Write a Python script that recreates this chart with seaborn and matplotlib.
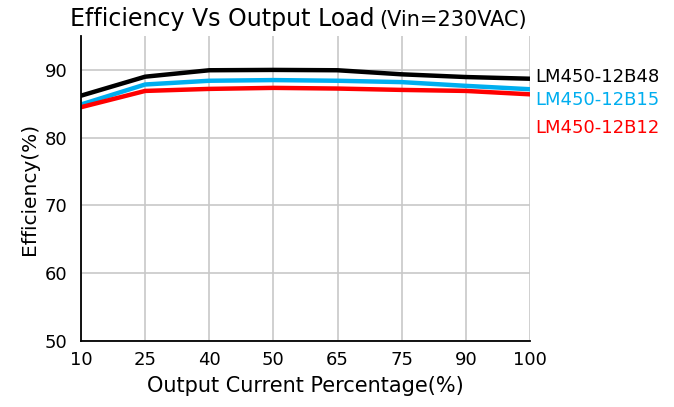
import matplotlib
matplotlib.use('Agg')
import matplotlib.pyplot as plt
import pandas as pd
import seaborn as sns

##################################################################
loads = ['10', '25', '40', '50', '65', '75', '90', '100']
eff_b48 = [86.2, 89.0, 89.95, 90.0, 89.95, 89.35, 88.95, 88.7]
eff_b15 = [84.9, 87.85, 88.4, 88.5, 88.4, 88.2, 87.65, 87.15]
eff_b12 = [84.5, 86.9, 87.2, 87.35, 87.25, 87.05, 86.9, 86.4]
models = ['LM450-12B48', 'LM450-12B15', 'LM450-12B12']
colors = ['#000000', '#00aeef', '#ff0000']
##################################################################
df = pd.DataFrame({
    'Load': loads * 3,
    'Eff': eff_b48 + eff_b15 + eff_b12,
    'Model': [m for m in models for _ in loads],
})

sns.set_style('white')
plt.rcParams['font.family'] = ['DejaVu Sans']
plt.rcParams['text.color'] = 'black'
plt.rcParams['axes.labelcolor'] = 'black'

fig = plt.figure(figsize=[6.74, 4.07], dpi=100)
ax = fig.add_axes([0.1202, 0.162, 0.666, 0.7495])

sns.lineplot(data=df, x='Load', y='Eff', hue='Model', palette=colors,
             hue_order=models, lw=3.2, legend=False, ax=ax, sort=False)

ax.set_xlim(0, len(loads) - 1)
ax.set_ylim(50, 95)
ax.set_yticks([50, 60, 70, 80, 90])
ax.grid(True, color='#c8c8c8', lw=1.2)
ax.set_axisbelow(True)
for s in ['top', 'right']:
    ax.spines[s].set_visible(False)
for s in ['left', 'bottom']:
    ax.spines[s].set_color('black')
    ax.spines[s].set_linewidth(1.3)
ax.tick_params(direction='in', length=7, width=1.2, labelsize=13, colors='black')
ax.tick_params(axis='x', pad=7)
ax.tick_params(axis='y', pad=10)

fz = 15
ax.set_xlabel('Output Current Percentage(%)', fontsize=fz, labelpad=5)
ax.set_ylabel('Efficiency(%)', fontsize=14.5, labelpad=4)

# series labels on the right
label_y = [89.0, 85.5, 81.4]
for m, c, y in zip(models, colors, label_y):
    ax.text(1.012, y, m, color=c, fontsize=13, va='center', ha='left',
            transform=ax.get_yaxis_transform())

fig.text(0.104, 0.935, 'Efficiency Vs Output Load', fontsize=17, ha='left', va='baseline')
fig.text(0.562, 0.935, '(Vin=230VAC)', fontsize=15, ha='left', va='baseline')

plt.savefig('out.png', dpi=100)
